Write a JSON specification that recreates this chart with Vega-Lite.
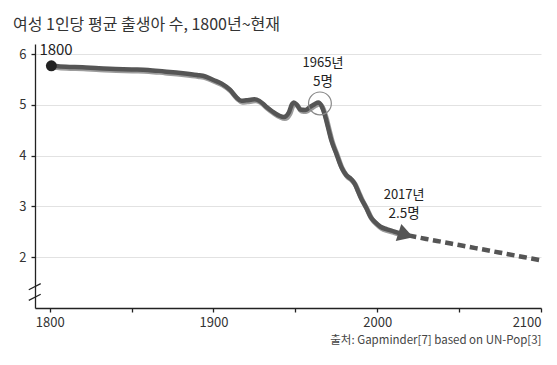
{
  "$schema": "https://vega.github.io/schema/vega-lite/v6.json",
  "width": 506,
  "height": 264,
  "autosize": {"type": "none"},
  "padding": {"left": 35, "top": 44, "right": 16, "bottom": 57},
  "background": "white",
  "config": {
    "font": "Noto Sans CJK KR",
    "view": {"stroke": null}
  },
  "title": {
    "text": "여성 1인당 평균 출생아 수, 1800년~현재",
    "anchor": "start",
    "frame": "group",
    "dx": -22,
    "offset": -3,
    "fontSize": 16,
    "fontWeight": "normal",
    "color": "#333",
    "baseline": "alphabetic"
  },
  "datasets": {
    "fert": [
      {"year": 1801, "value": 5.77, "seg": "hist"},
      {"year": 1810, "value": 5.75, "seg": "hist"},
      {"year": 1820, "value": 5.74, "seg": "hist"},
      {"year": 1830, "value": 5.72, "seg": "hist"},
      {"year": 1840, "value": 5.71, "seg": "hist"},
      {"year": 1850, "value": 5.70, "seg": "hist"},
      {"year": 1860, "value": 5.69, "seg": "hist"},
      {"year": 1870, "value": 5.66, "seg": "hist"},
      {"year": 1880, "value": 5.63, "seg": "hist"},
      {"year": 1890, "value": 5.59, "seg": "hist"},
      {"year": 1895, "value": 5.56, "seg": "hist"},
      {"year": 1900, "value": 5.49, "seg": "hist"},
      {"year": 1905, "value": 5.42, "seg": "hist"},
      {"year": 1910, "value": 5.30, "seg": "hist"},
      {"year": 1914, "value": 5.15, "seg": "hist"},
      {"year": 1917, "value": 5.08, "seg": "hist"},
      {"year": 1920, "value": 5.09, "seg": "hist"},
      {"year": 1925, "value": 5.11, "seg": "hist"},
      {"year": 1928, "value": 5.08, "seg": "hist"},
      {"year": 1932, "value": 4.97, "seg": "hist"},
      {"year": 1936, "value": 4.87, "seg": "hist"},
      {"year": 1940, "value": 4.79, "seg": "hist"},
      {"year": 1943, "value": 4.76, "seg": "hist"},
      {"year": 1946, "value": 4.85, "seg": "hist"},
      {"year": 1948, "value": 5.02, "seg": "hist"},
      {"year": 1949, "value": 5.05, "seg": "hist"},
      {"year": 1951, "value": 5.00, "seg": "hist"},
      {"year": 1953, "value": 4.91, "seg": "hist"},
      {"year": 1956, "value": 4.90, "seg": "hist"},
      {"year": 1959, "value": 4.96, "seg": "hist"},
      {"year": 1962, "value": 5.02, "seg": "hist"},
      {"year": 1964, "value": 5.05, "seg": "hist"},
      {"year": 1966, "value": 4.98, "seg": "hist"},
      {"year": 1968, "value": 4.80, "seg": "hist"},
      {"year": 1970, "value": 4.55, "seg": "hist"},
      {"year": 1972, "value": 4.30, "seg": "hist"},
      {"year": 1975, "value": 4.04, "seg": "hist"},
      {"year": 1978, "value": 3.78, "seg": "hist"},
      {"year": 1981, "value": 3.62, "seg": "hist"},
      {"year": 1984, "value": 3.54, "seg": "hist"},
      {"year": 1986, "value": 3.46, "seg": "hist"},
      {"year": 1988, "value": 3.32, "seg": "hist"},
      {"year": 1990, "value": 3.17, "seg": "hist"},
      {"year": 1993, "value": 2.99, "seg": "hist"},
      {"year": 1996, "value": 2.79, "seg": "hist"},
      {"year": 1999, "value": 2.68, "seg": "hist"},
      {"year": 2002, "value": 2.60, "seg": "hist"},
      {"year": 2006, "value": 2.55, "seg": "hist"},
      {"year": 2010, "value": 2.51, "seg": "hist"},
      {"year": 2014, "value": 2.47, "seg": "hist"},
      {"year": 2016, "value": 2.45, "seg": "hist"},
      {"year": 2019, "value": 2.43, "seg": "proj"},
      {"year": 2030, "value": 2.36, "seg": "proj"},
      {"year": 2040, "value": 2.30, "seg": "proj"},
      {"year": 2050, "value": 2.24, "seg": "proj"},
      {"year": 2060, "value": 2.18, "seg": "proj"},
      {"year": 2070, "value": 2.12, "seg": "proj"},
      {"year": 2080, "value": 2.06, "seg": "proj"},
      {"year": 2090, "value": 2.00, "seg": "proj"},
      {"year": 2100, "value": 1.94, "seg": "proj"}
    ]
  },
  "encoding": {
    "x": {
      "field": "year",
      "type": "quantitative",
      "scale": {"domain": [1791, 2100], "nice": false, "zero": false},
      "axis": {
        "values": [1800, 1850, 1900, 1950, 2000, 2050, 2100],
        "format": "d",
        "labelExpr": "datum.value % 100 === 0 ? datum.label : ''",
        "grid": false,
        "domainColor": "#222",
        "domainWidth": 1.3,
        "tickColor": "#222",
        "tickSize": 4,
        "tickWidth": 1.3,
        "labelFontSize": 13,
        "labelColor": "#333",
        "labelPadding": 4,
        "title": "출처: Gapminder[7] based on UN-Pop[3]",
        "titleAnchor": "end",
        "titleAlign": "right",
        "titleFontSize": 11.5,
        "titleFontWeight": "normal",
        "titleColor": "#444",
        "titlePadding": 5
      }
    },
    "y": {
      "field": "value",
      "type": "quantitative",
      "scale": {"domain": [1, 6.2], "nice": false, "zero": false},
      "axis": {
        "values": [2, 3, 4, 5, 6],
        "grid": true,
        "gridColor": "#e2e2e2",
        "gridWidth": 1,
        "domainColor": "#222",
        "domainWidth": 1.3,
        "tickColor": "#222",
        "tickSize": 4,
        "tickWidth": 1.3,
        "labelFontSize": 13,
        "labelColor": "#333",
        "labelPadding": 5,
        "title": null
      }
    }
  },
  "layer": [
    {
      "data": {"name": "fert"},
      "transform": [{"filter": "datum.seg === 'hist'"}],
      "mark": {"type": "line", "color": "#9c9c9c", "strokeWidth": 5, "xOffset": 1, "yOffset": 1.5, "interpolate": "monotone", "strokeCap": "round", "strokeJoin": "round"}
    },
    {
      "data": {"name": "fert"},
      "transform": [{"filter": "datum.seg === 'hist'"}],
      "mark": {"type": "line", "color": "#555", "strokeWidth": 4.5, "interpolate": "monotone", "strokeCap": "round", "strokeJoin": "round"}
    },
    {
      "data": {"name": "fert"},
      "transform": [{"filter": "datum.seg === 'proj'"}],
      "mark": {"type": "line", "color": "#555", "strokeWidth": 4.5, "strokeDash": [8, 4.5], "interpolate": "monotone", "strokeCap": "butt"}
    },
    {
      "data": {"values": [{"year": 2017.5, "value": 2.44}]},
      "mark": {"type": "point", "shape": "triangle-right", "filled": true, "color": "#555", "opacity": 1, "size": 320, "angle": 18}
    },
    {
      "data": {"values": [{"year": 1801, "value": 5.77}]},
      "mark": {"type": "point", "shape": "circle", "filled": true, "color": "#222", "opacity": 1, "size": 120}
    },
    {
      "data": {"values": [{"year": 1965, "value": 5.03}]},
      "mark": {"type": "point", "shape": "circle", "filled": false, "color": "#888", "opacity": 1, "size": 520, "strokeWidth": 1.2}
    },
    {
      "data": {"values": [{"year": 1801, "value": 5.77, "label": "1800"}]},
      "mark": {"type": "text", "align": "left", "baseline": "middle", "dx": -12, "dy": -16, "fontSize": 15, "color": "#222"},
      "encoding": {"text": {"field": "label"}}
    },
    {
      "data": {"values": [{"year": 1965, "value": 5.03, "label": "1965년"}]},
      "mark": {"type": "text", "align": "center", "baseline": "middle", "dx": 3, "dy": -40.5, "fontSize": 13, "color": "#222"},
      "encoding": {"text": {"field": "label"}}
    },
    {
      "data": {"values": [{"year": 1965, "value": 5.03, "label": "5명"}]},
      "mark": {"type": "text", "align": "center", "baseline": "middle", "dx": 3, "dy": -21.5, "fontSize": 13.5, "color": "#222"},
      "encoding": {"text": {"field": "label"}}
    },
    {
      "data": {"values": [{"year": 2017, "value": 2.44, "label": "2017년"}]},
      "mark": {"type": "text", "align": "center", "baseline": "middle", "dx": -1, "dy": -39.5, "fontSize": 13, "color": "#222"},
      "encoding": {"text": {"field": "label"}}
    },
    {
      "data": {"values": [{"year": 2017, "value": 2.44, "label": "2.5명"}]},
      "mark": {"type": "text", "align": "center", "baseline": "middle", "dx": -1, "dy": -20.5, "fontSize": 13.5, "color": "#222"},
      "encoding": {"text": {"field": "label"}}
    },
    {
      "data": {"values": [{"y1": 1.28, "y2": 1.41}]},
      "mark": {"type": "rule", "color": "white", "strokeWidth": 3},
      "encoding": {
        "x": {"datum": 1791, "type": "quantitative"},
        "y": {"field": "y1", "type": "quantitative"},
        "y2": {"field": "y2"}
      }
    },
    {
      "data": {"values": [{"x1": 1787.2, "x2": 1794.5, "y1": 1.36, "y2": 1.48}, {"x1": 1787.2, "x2": 1794.5, "y1": 1.15, "y2": 1.27}]},
      "mark": {"type": "rule", "color": "#222", "strokeWidth": 1.2},
      "encoding": {
        "x": {"field": "x1", "type": "quantitative"},
        "x2": {"field": "x2"},
        "y": {"field": "y1", "type": "quantitative"},
        "y2": {"field": "y2"}
      }
    }
  ]
}
